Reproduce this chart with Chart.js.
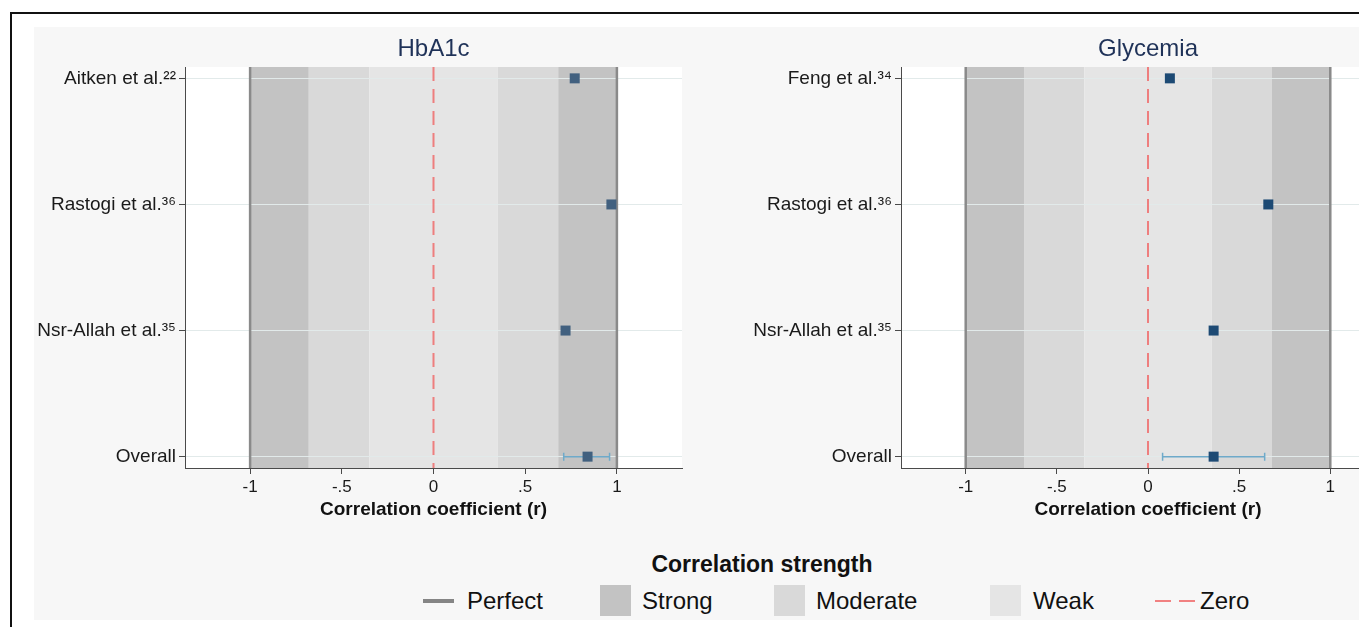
<!DOCTYPE html>
<html>
<head>
<meta charset="utf-8">
<title>Correlation strength</title>
<script src="https://cdn.jsdelivr.net/npm/chart.js@4.4.1/dist/chart.umd.min.js"></script>
<style>
  html, body { margin: 0; padding: 0; width: 1359px; height: 627px; overflow: hidden; background: #ffffff; }
  body { position: relative; font-family: "Liberation Sans", Arial, Helvetica, sans-serif; color: #111; }
  #frame { position: absolute; left: 10px; top: 12px; width: 1420px; height: 700px; border-left: 2px solid #111; border-top: 2px solid #111; }
  #region { position: absolute; left: 34px; top: 27px; width: 1420px; height: 593px; background: #f7f7f7; }
  canvas { position: absolute; }
  #legendTitle { position: absolute; left: 562px; width: 400px; top: 550px; text-align: center; font-weight: bold; font-size: 23px; line-height: 28px; color: #111; }
  .lg-text { position: absolute; font-size: 24px; line-height: 28px; top: 587px; color: #111; white-space: nowrap; }
  .lg-sw { position: absolute; }
</style>
</head>
<body>
<div id="frame"></div>
<div id="region"></div>
<canvas id="panelHbA1c" width="660" height="494" style="left:34px; top:27px;"></canvas>
<canvas id="panelGlycemia" width="657" height="494" style="left:750px; top:27px;"></canvas>
<div id="legendTitle"></div>
<div id="legend"></div>

<script>
// ---- data ----
const hba1cStudies = ['Aitken et al.\u00B2\u00B2', 'Rastogi et al.\u00B3\u2076', 'Nsr-Allah et al.\u00B3\u2075', 'Overall'];
const hba1cR = [0.77, 0.97, 0.72, 0.84];
const hba1cOverallCI = [0.71, 0.96];

const glycemiaStudies = ['Feng et al.\u00B3\u2074', 'Rastogi et al.\u00B3\u2076', 'Nsr-Allah et al.\u00B3\u2075', 'Overall'];
const glycemiaR = [0.12, 0.66, 0.36, 0.36];
const glycemiaOverallCI = [0.08, 0.64];

const xTickValues = [-1, -0.5, 0, 0.5, 1];
const xTickLabels = ['-1', '-.5', '0', '.5', '1'];

// correlation strength cut-offs (|r|): weak up to 0.35, moderate up to 0.68, strong up to 1
const weakCut = 0.35;
const strongCut = 0.68;
const perfectR = [-1, 1];
const zeroR = 0;

const legendLabels = ['Perfect', 'Strong', 'Moderate', 'Weak', 'Zero'];
const legendTitleText = 'Correlation strength';

// ---- styles ----
const FONT = '"Liberation Sans", Arial, Helvetica, sans-serif';
Chart.defaults.font.family = FONT;
Chart.defaults.color = '#1a1a1a';
const COLORS = {
  strong: '#c3c3c3',
  moderate: '#d9d9d9',
  weak: '#e5e5e5',
  perfect: '#8a8a8a',
  zero: 'rgba(240,108,108,0.85)',
  ci: '#6eaaca',
  axis: '#4a4a4a',
  grid: '#e2eaea',
  title: '#1f3258'
};

const Y_MIN = 0.91, Y_MAX = 4.09;
const X_MIN = -1.355, X_MAX = 1.355;

// strength bands painted behind grid and marks, from the scale's own pixel mapping
const bandsPlugin = {
  id: 'strengthBands',
  beforeDraw(chart) {
    const { ctx, chartArea: a, scales: { x } } = chart;
    ctx.save();
    ctx.fillStyle = '#ffffff';
    ctx.fillRect(a.left, a.top, a.right - a.left, a.bottom - a.top);
    const bands = [
      [-1, -strongCut, COLORS.strong],
      [-strongCut, -weakCut, COLORS.moderate],
      [-weakCut, weakCut, COLORS.weak],
      [weakCut, strongCut, COLORS.moderate],
      [strongCut, 1, COLORS.strong]
    ];
    bands.forEach(([from, to, color]) => {
      const x0 = x.getPixelForValue(from);
      const x1 = x.getPixelForValue(to);
      ctx.fillStyle = color;
      ctx.fillRect(x0, a.top, x1 - x0, a.bottom - a.top);
    });
    ctx.restore();
  }
};

// confidence interval of the pooled estimate
const ciPlugin = {
  id: 'overallCI',
  beforeDatasetsDraw(chart, args, opts) {
    if (!opts || !opts.interval) return;
    const { ctx, scales: { x, y } } = chart;
    const [lo, hi] = opts.interval;
    const py = y.getPixelForValue(opts.row);
    const x0 = x.getPixelForValue(lo);
    const x1 = x.getPixelForValue(hi);
    const cap = 4;
    ctx.save();
    ctx.strokeStyle = COLORS.ci;
    ctx.lineWidth = 1.5;
    ctx.beginPath();
    ctx.moveTo(x0, py); ctx.lineTo(x1, py);
    ctx.moveTo(x0, py - cap); ctx.lineTo(x0, py + cap);
    ctx.moveTo(x1, py - cap); ctx.lineTo(x1, py + cap);
    ctx.stroke();
    ctx.restore();
  }
};

function verticalLine(xv) {
  return [{ x: xv, y: Y_MIN }, { x: xv, y: Y_MAX }];
}

function makePanel(canvasId, titleText, studies, values, overallCI, markerColor) {
  const markers = {
    type: 'scatter',
    data: values.map((v, i) => ({ x: v, y: i + 1 })),
    pointStyle: 'rect',
    pointRadius: 7.07,
    pointHoverRadius: 7.07,
    backgroundColor: markerColor,
    borderColor: markerColor,
    borderWidth: 0
  };
  const perfectLines = perfectR.map(v => ({
    type: 'line',
    data: verticalLine(v),
    borderColor: COLORS.perfect,
    borderWidth: 2.5,
    pointRadius: 0,
    fill: false
  }));
  const zeroLine = {
    type: 'line',
    data: verticalLine(zeroR),
    borderColor: COLORS.zero,
    borderWidth: 2,
    borderDash: [14, 8],
    pointRadius: 0,
    fill: false
  };

  return new Chart(document.getElementById(canvasId), {
    type: 'scatter',
    data: { datasets: [markers, zeroLine, ...perfectLines] },
    options: {
      responsive: false,
      animation: false,
      devicePixelRatio: 1,
      layout: { padding: { left: 0, right: 12, top: 0, bottom: 0 } },
      plugins: {
        legend: { display: false },
        tooltip: { enabled: false },
        title: {
          display: true,
          text: titleText,
          fullSize: false,
          color: COLORS.title,
          font: { size: 24, weight: 'normal', family: FONT },
          padding: { top: 8, bottom: 3.2 }
        },
        overallCI: { interval: overallCI, row: studies.length }
      },
      scales: {
        x: {
          type: 'linear',
          min: X_MIN,
          max: X_MAX,
          afterBuildTicks: s => { s.ticks = xTickValues.map(v => ({ value: v })); },
          afterFit: s => { s.height = 53; },
          ticks: {
            autoSkip: false,
            maxRotation: 0,
            padding: 3,
            color: '#1a1a1a',
            font: { size: 17, family: FONT },
            callback: v => {
              const i = xTickValues.findIndex(t => Math.abs(t - v) < 1e-9);
              return i >= 0 ? xTickLabels[i] : '';
            }
          },
          grid: { drawOnChartArea: false, drawTicks: true, tickLength: 6, tickColor: COLORS.axis, tickWidth: 1 },
          border: { display: true, color: COLORS.axis, width: 1 },
          title: {
            display: true,
            text: 'Correlation coefficient (r)',
            color: '#111',
            font: { size: 19, weight: 'bold', family: FONT },
            padding: { top: 2, bottom: 0 }
          }
        },
        y: {
          type: 'linear',
          reverse: true,
          min: Y_MIN,
          max: Y_MAX,
          afterBuildTicks: s => { s.ticks = studies.map((_, i) => ({ value: i + 1 })); },
          afterFit: s => { s.width = 151; },
          ticks: {
            autoSkip: false,
            padding: 3,
            color: '#1a1a1a',
            font: { size: 19, family: FONT },
            callback: v => studies[Math.round(v) - 1]
          },
          grid: { color: COLORS.grid, lineWidth: 1, drawTicks: true, tickLength: 6, tickColor: COLORS.axis, tickWidth: 1 },
          border: { display: true, color: COLORS.axis, width: 1 }
        }
      }
    },
    plugins: [bandsPlugin, ciPlugin]
  });
}

makePanel('panelHbA1c', 'HbA1c', hba1cStudies, hba1cR, hba1cOverallCI, '#41607f');
makePanel('panelGlycemia', 'Glycemia', glycemiaStudies, glycemiaR, glycemiaOverallCI, '#1d4a74');

// ---- shared legend ----
document.getElementById('legendTitle').textContent = legendTitleText;
const legendBox = document.getElementById('legend');
const legendSwatchX = [423, 600, 774, 990, 1155];
const legendTextX = [467, 642, 816, 1033, 1200];
const legendKinds = ['line', 'box', 'box', 'box', 'dash'];
const legendColors = [COLORS.perfect, COLORS.strong, COLORS.moderate, COLORS.weak, COLORS.zero];
const ITEM_Y = 601;

function addDiv(css) {
  const d = document.createElement('div');
  d.className = 'lg-sw';
  Object.assign(d.style, css);
  legendBox.appendChild(d);
  return d;
}

legendLabels.forEach((label, i) => {
  const sx = legendSwatchX[i];
  const kind = legendKinds[i];
  if (kind === 'line') {
    addDiv({ left: sx + 'px', top: (ITEM_Y - 2) + 'px', width: '31px', height: '4px', background: '#858585' });
  } else if (kind === 'box') {
    addDiv({ left: sx + 'px', top: (ITEM_Y - 16) + 'px', width: '31px', height: '31px', background: legendColors[i] });
  } else {
    addDiv({ left: sx + 'px', top: (ITEM_Y - 1) + 'px', width: '16px', height: '2px', background: 'rgba(240,108,108,0.85)' });
    addDiv({ left: (sx + 24) + 'px', top: (ITEM_Y - 1) + 'px', width: '16px', height: '2px', background: 'rgba(240,108,108,0.85)' });
  }
  const t = document.createElement('div');
  t.className = 'lg-text';
  t.style.left = legendTextX[i] + 'px';
  t.textContent = label;
  legendBox.appendChild(t);
});
</script>
</body>
</html>
